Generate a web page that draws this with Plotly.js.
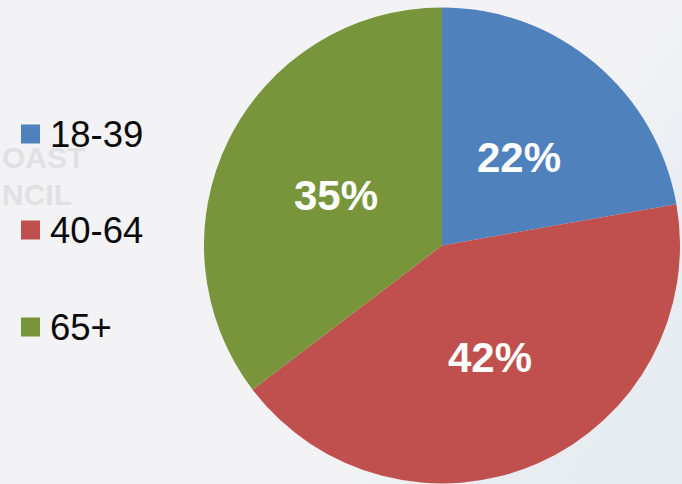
<!DOCTYPE html>
<html><head><meta charset="utf-8">
<script src="https://cdn.plot.ly/plotly-3.0.1.min.js"></script>
<style>html,body{margin:0;padding:0}body{background:linear-gradient(125deg,#f3f2f4 0%,#f3f3f5 66%,#e8edf2 80%,#e7ecf1 100%)}#c{width:682px;height:484px}</style>
</head><body><div id="c"></div>
<script>
const categories=["18-39","40-64","65+"];
const values=[22,42,35];
const labels=["22%","42%","35%"];
const colors=["#4f81bd","#c0504d","#79953b"];
const legendY=[134,230,327];
const labelX=[519,490,336];
const labelY=[157,357,195];
const ghostWords=["OAST","NCIL"];
const ghostX=[0,0];
const ghostY=[157,194];
const px=x=>x/682, py=y=>1-y/484;
const legendText=categories.map((c,i)=>({xref:"paper",yref:"paper",x:px(48),y:py(legendY[i]),xanchor:"left",yanchor:"middle",text:c,showarrow:false,font:{family:"Liberation Sans",size:36.5,color:"#0a0a0a"}}));
const sliceText=labels.map((t,i)=>({xref:"paper",yref:"paper",x:px(labelX[i]),y:py(labelY[i]),xanchor:"center",yanchor:"middle",text:"<b>"+t+"</b>",showarrow:false,font:{family:"Liberation Sans",size:42,color:"#fff"}}));
const ghostText=ghostWords.map((t,i)=>({xref:"paper",yref:"paper",x:px(ghostX[i]),y:py(ghostY[i]),xanchor:"left",yanchor:"middle",text:"<b>"+t+"</b>",showarrow:false,font:{family:"Liberation Sans",size:30,color:"#e1e1e4"}}));
const shapes=categories.map((c,i)=>({type:"rect",xref:"paper",yref:"paper",x0:px(21),x1:px(40),y0:py(legendY[i]+9.5),y1:py(legendY[i]-9.5),fillcolor:colors[i],line:{width:0}}));
Plotly.newPlot("c",[{type:"pie",labels:categories,values:values,textinfo:"none",sort:false,direction:"clockwise",rotation:0,
marker:{colors:colors,line:{width:0}},
domain:{x:[204/682,680/682],y:[1-485/484,1-7/484]},showlegend:false,hoverinfo:"none"}],
{width:682,height:484,margin:{l:0,r:0,t:0,b:0},paper_bgcolor:"rgba(0,0,0,0)",showlegend:false,annotations:[...ghostText,...legendText,...sliceText],shapes},{displayModeBar:false,staticPlot:true});
</script></body></html>
